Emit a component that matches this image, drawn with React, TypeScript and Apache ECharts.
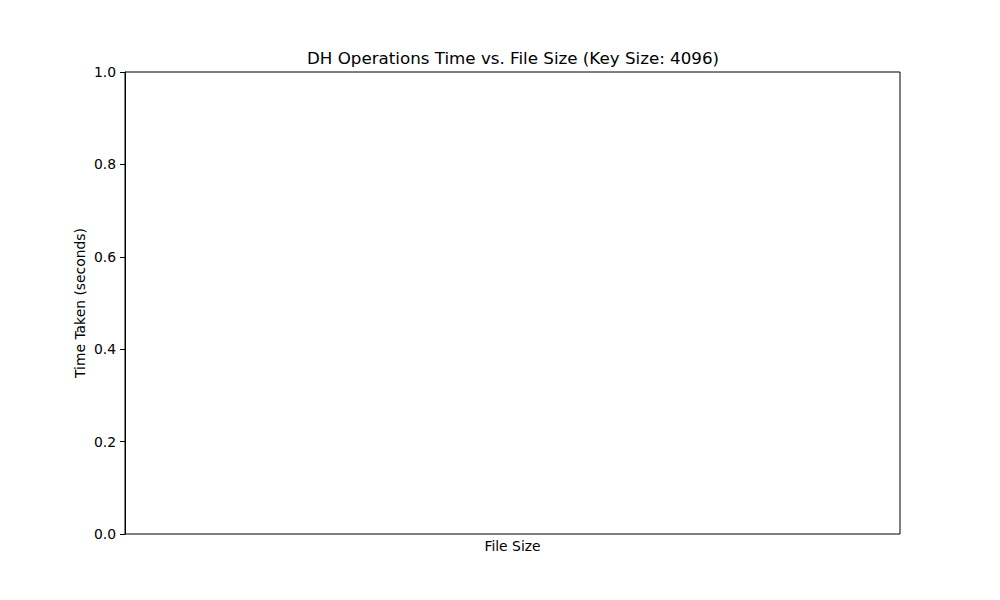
import React, { useEffect, useRef } from "react";
import * as echarts from "echarts";

// The reference chart is empty: no data points were plotted.
const fileSizes: number[] = [];
const timesTaken: number[] = [];
const yTicks: number[] = [0, 0.2, 0.4, 0.6, 0.8, 1.0];

const TITLE = "DH Operations Time vs. File Size (Key Size: 4096)";
const FONT = "DejaVu Sans";

export default function App() {
  const ref = useRef<HTMLDivElement>(null);
  useEffect(() => {
    document.body.style.margin = "0";
    if (!ref.current) return;
    const chart = echarts.init(ref.current, undefined, { renderer: "svg" });
    chart.setOption({
      animation: false,
      backgroundColor: "#ffffff",
      title: {
        text: TITLE,
        left: 307,
        top: 49,
        padding: 0,
        textStyle: { fontFamily: FONT, fontSize: 16.7, fontWeight: "normal", color: "#000" },
      },
      grid: {
        left: 125,
        right: 100,
        top: 72,
        bottom: 66,
        show: true,
        borderColor: "#000",
        borderWidth: 1,
        backgroundColor: "transparent",
      },
      xAxis: {
        type: "value",
        min: 0,
        max: 1,
        name: "File Size",
        nameLocation: "middle",
        nameGap: 5,
        nameTextStyle: { fontFamily: FONT, fontSize: 13.9, color: "#000" },
        axisLine: { show: false },
        axisTick: { show: false },
        axisLabel: { show: false },
        splitLine: { show: false },
      },
      yAxis: {
        type: "value",
        min: yTicks[0],
        max: yTicks[yTicks.length - 1],
        interval: 0.2,
        name: "Time Taken (seconds)",
        nameLocation: "middle",
        nameGap: 38,
        nameMoveOverlap: false,
        nameTextStyle: { fontFamily: FONT, fontSize: 13.9, color: "#000" },
        axisLine: { show: true, lineStyle: { color: "#000", width: 1 } },
        axisTick: { show: true, length: 5, lineStyle: { color: "#000" } },
        axisLabel: {
          margin: 9,
          fontFamily: FONT,
          fontSize: 13.9,
          color: "#000",
          formatter: (v: number) => v.toFixed(1),
        },
        splitLine: { show: false },
      },
      series: [
        {
          type: "line",
          data: fileSizes.map((x, i) => [x, timesTaken[i]]),
        },
      ],
    });
    return () => chart.dispose();
  }, []);
  return <div ref={ref} style={{ width: 1000, height: 600 }} />;
}
